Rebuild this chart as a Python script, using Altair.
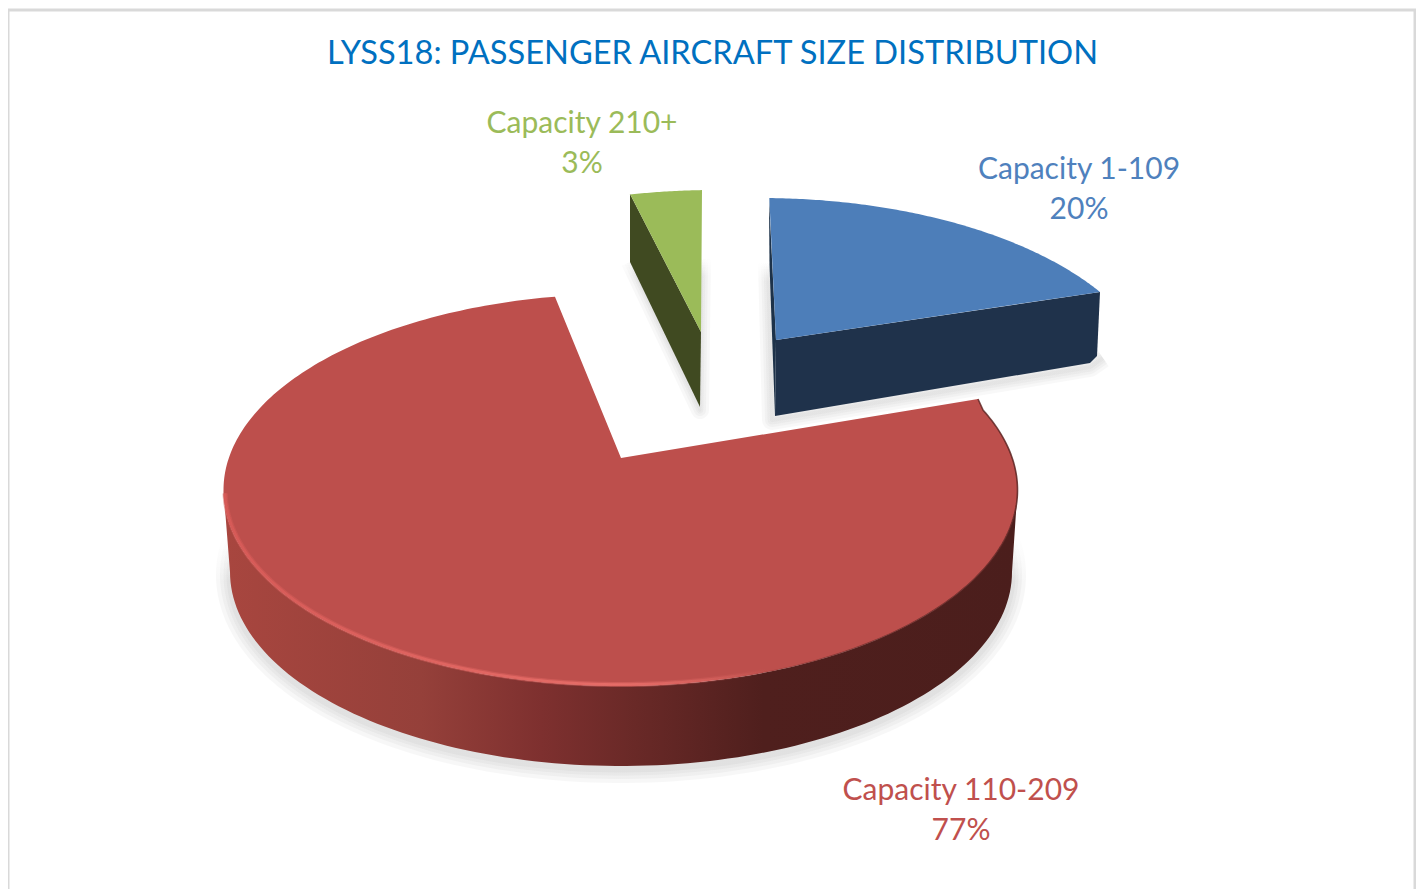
import numpy as np
import pandas as pd
import altair as alt

# ---- values
title_text = "LYSS18: PASSENGER AIRCRAFT SIZE DISTRIBUTION"
categories = ["Capacity 1-109", "Capacity 110-209", "Capacity 210+"]
shares = [20, 77, 3]
label_colors = ["#4F81BD", "#C0504D", "#9BBB59"]
label_x = [1079, 961, 582]
label_y = [170, 791, 124]

# ---- drawing of the projected 3-D discs (image pixel space)
XD = [8, 1416]
YD = [8, 889]
x_scale = alt.Scale(domain=XD, range=[0, XD[1] - XD[0]])
y_scale = alt.Scale(domain=YD, reverse=True)
W, H = XD[1] - XD[0], YD[1] - YD[0]


def arc(cx, cy, rx, ry, t0, t1, n=120):
    t = np.radians(np.linspace(t0, t1, n))
    return list(zip(cx + rx * np.cos(t), cy + ry * np.sin(t)))


def table(points):
    return pd.DataFrame({"x": [p[0] for p in points], "y": [p[1] for p in points], "i": range(len(points))})


def shape(points, **mark):
    return alt.Chart(table(points)).mark_line(clip=False, interpolate="linear", **mark).encode(
        x=alt.X("x:Q", scale=x_scale, axis=None),
        y=alt.Y("y:Q", scale=y_scale, axis=None),
        order=alt.Order("i:Q"),
    )


def grad(stops, horizontal=True):
    return alt.Gradient(
        gradient="linear", x1=0, x2=1 if horizontal else 0, y1=0, y2=0 if horizontal else 1,
        stops=[alt.GradientStop(offset=o, color=c) for o, c in stops],
    )


R_TOP = (620.5, 490, 397, 196)
R_RIM = (620.5, 490, 395.5, 194.5)
R_LOW = (621, 572, 391, 194)
B_TOP = (761, 394, 397, 196)
G_TOP = (715, 386, 397, 196)

red_side = arc(*R_TOP, 180, 0) + arc(*R_LOW, 0, 180)
red_top = [(621, 458), (978, 399)] + arc(*R_TOP, -24, 260.5, 300)
red_edge_light = arc(*R_RIM, 179, 68)
red_edge_dark = [(978, 399)] + arc(*R_TOP, -24, 75)[::-1][::-1]
red_shadow = [(p[0], p[1] + 3) for p in arc(*R_LOW, -12, 192)]

blue_top = [(776, 340)] + arc(*B_TOP, -88.8, -31.4)
blue_side = [(776, 340), (1100, 292), (1097, 356), (1090, 363), (775, 416)]
blue_left = [(769, 198), (769.5, 265), (775, 416), (776, 340)]
blue_shadow = [(768, 262), (772, 420), (1090, 367), (1103, 358)]

green_top = [(701, 332), (630, 194)] + arc(*G_TOP, -102.4, -91.9, 30) + [(702, 190)]
green_side = [(630, 194), (630, 262), (700, 407), (701, 332)]
green_shadow = [(630, 262), (700, 410), (702, 258)]

frame = [(8, 889), (8, 10), (1415, 10), (1415, 889)]

fade_in = grad([(0, "rgba(0,0,0,0)"), (0.2, "rgba(0,0,0,0.03)"), (1, "rgba(0,0,0,0.03)")], horizontal=False)
fade_small = grad([(0, "rgba(0,0,0,0)"), (0.12, "rgba(0,0,0,0.028)"), (1, "rgba(0,0,0,0.028)")], horizontal=False)

layers = []
for widths, path, stroke in [
    ([28, 20, 13, 7], red_shadow, fade_in),
    ([20, 14, 9, 4], blue_shadow, fade_small),
    ([18, 12, 7, 3], green_shadow, fade_small),
]:
    for w in widths:
        layers.append(shape(path, stroke=stroke, strokeWidth=w, strokeCap="butt", strokeJoin="round"))

layers += [
    shape(frame, stroke="#D9D9D9", strokeWidth=3),
    shape(red_side, stroke=None, fill=grad([
        (0, "#A8463F"), (0.25, "#95403A"), (0.4, "#7E302F"), (0.52, "#692927"),
        (0.68, "#4F1F1D"), (1, "#4B1E1C")])),
    shape(red_top, fill="#BD4F4C", stroke=None),
    shape(red_edge_dark, stroke=grad([(0, "rgba(90,34,32,0)"), (0.4, "rgba(90,34,32,0.55)"), (1, "rgba(90,34,32,0.85)")]),
          strokeWidth=1.6),
    shape(red_edge_light, stroke=grad([(0, "rgba(214,90,87,0.5)"), (0.75, "rgba(226,104,100,0.5)"), (1, "rgba(226,104,100,0)")]),
          strokeWidth=5),
    shape(red_edge_light, stroke=grad([(0, "#D65A57"), (0.72, "#E66D68"), (1, "rgba(230,109,104,0)")]),
          strokeWidth=2.5),
    shape(blue_left, fill="#1D3249", stroke=None),
    shape(blue_side, fill="#1F324B", stroke=None),
    shape(blue_top, fill="#4D7EB9", stroke=None),
    shape(green_side, fill="#404A21", stroke=None),
    shape(green_top, fill="#9BBB59", stroke=None),
]

labels = pd.DataFrame({"cat": categories, "share": shares, "color": label_colors, "x": label_x, "y": label_y})
labels["pct"] = labels["share"].astype(str) + "%"
labels["y2"] = labels["y"] + 40
titles = pd.DataFrame({"t": [title_text], "x": [712.5], "y": [54]})

base = alt.Chart(labels)
common = dict(font="Lato", fontSize=30, align="center", baseline="middle")
layers.append(base.mark_text(**common).encode(
    x=alt.X("x:Q", scale=x_scale, axis=None), y=alt.Y("y:Q", scale=y_scale, axis=None),
    text="cat:N", color=alt.Color("color:N", scale=None)))
layers.append(base.mark_text(**common).encode(
    x=alt.X("x:Q", scale=x_scale, axis=None), y=alt.Y("y2:Q", scale=y_scale, axis=None),
    text="pct:N", color=alt.Color("color:N", scale=None)))
layers.append(alt.Chart(titles).mark_text(font="Lato", fontSize=32.6, align="center", baseline="middle", color="#0070C0").encode(
    x=alt.X("x:Q", scale=x_scale, axis=None), y=alt.Y("y:Q", scale=y_scale, axis=None), text="t:N"))

chart = alt.layer(*layers).properties(
    width=W, height=H,
    padding=0,
    autosize=alt.AutoSizeParams(type="none"),
    background="white",
).configure_view(stroke=None)

chart.save("out.html", embed_options={"renderer": "svg", "actions": False})
